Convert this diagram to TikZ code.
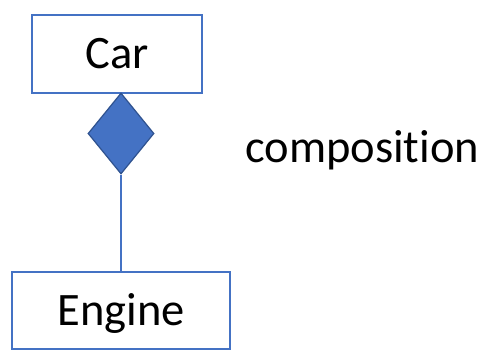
\documentclass[tikz,border=0pt]{standalone}
\usepackage{fontspec}
\setmainfont[Ligatures={NoCommon,NoDiscretionary}]{Carlito}
\usetikzlibrary{shapes.geometric}
\definecolor{umlblue}{HTML}{4472C4}
\definecolor{umldark}{HTML}{2F528F}
\tikzset{
  classbox/.style={draw=umlblue, line width=1.5pt, fill=white, rectangle, inner sep=0pt,
    text height=30pt, text depth=0pt, font=\fontsize{46.5}{50}\selectfont},
  compdiamond/.style={diamond, draw=umldark, line width=1.2pt, fill=umlblue, inner sep=0pt,
    minimum width=66pt, minimum height=81pt},
  assoc/.style={draw=umlblue, line width=1.2pt},
  caption/.style={font=\fontsize{46.5}{50}\selectfont, inner sep=0pt}
}
\begin{document}
\begin{tikzpicture}[x=1pt,y=-1pt]
  \useasboundingbox[fill=white] (0,0) rectangle (487,352);
  \node[classbox, minimum width=170pt, minimum height=78pt] (car) at (117,54) {Car};
  \node[compdiamond] (dia) at (121,133.5) {};
  \node[classbox, minimum width=218pt, minimum height=77pt] (engine) at (121,310.5) {Engine};
  \draw[assoc] (dia.south) -- (engine.north);
  \node[caption, anchor=base west] (label) at (245,163) {composi\kern0pt tion};
\end{tikzpicture}
\end{document}
